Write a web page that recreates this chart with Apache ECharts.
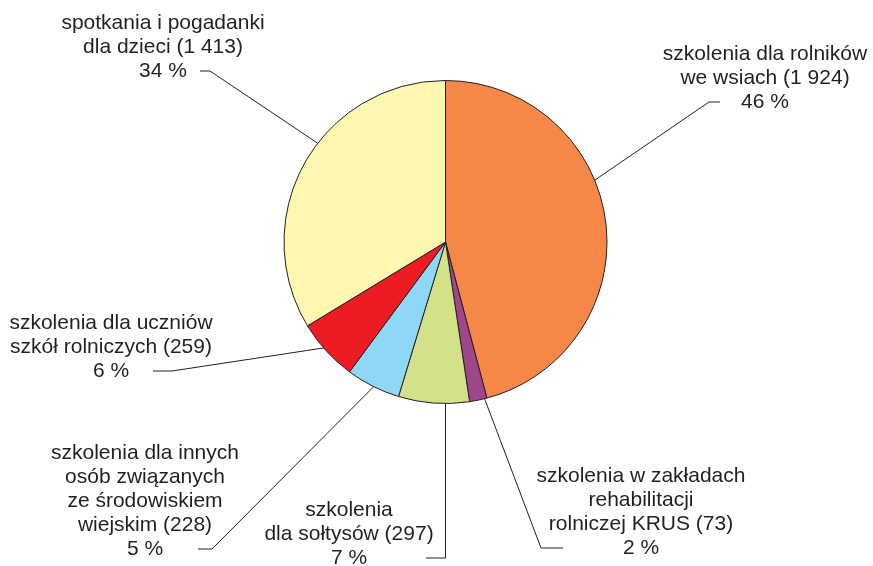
<html>
<head>
    <meta http-equiv="Content-Type" content="text/html; charset=utf-8">
    <script src="https://cdn.jsdelivr.net/npm/echarts@6/dist/echarts.min.js"></script>
    <style>
        * {
            margin: 0;
            padding: 0;
        }

        #main {
            width: 873px;
            height: 566px;
            background: #ffffff;
        }
    </style>
</head>
<body>
<div id="main"></div>
<script type="text/javascript">
    // kategorie (kolejność jak na wykresie, od góry zgodnie z ruchem wskazówek)
    let categories = [
        'szkolenia dla rolników\nwe wsiach',
        'szkolenia w zakładach\nrehabilitacji\nrolniczej KRUS',
        'szkolenia\ndla sołtysów',
        'szkolenia dla innych\nosób związanych\nze środowiskiem\nwiejskim',
        'szkolenia dla uczniów\nszkół rolniczych',
        'spotkania i pogadanki\ndla dzieci'
    ];
    let values = [1924, 73, 297, 228, 259, 1413];
    let colors = ['#f58747', '#a0468a', '#d3e288', '#8ed8f5', '#ed1c24', '#fff6af'];

    // wymiary koła
    let pieCenter = [445.5, 242];
    let pieRadius = 161.5;

    // podpisy: środek tekstu, wysokość ostatniej linii, załamanie i koniec linii,
    // kąt (od góry, zgodnie ze wskazówkami) w którym linia dotyka koła
    let labelSpots = [
        {cx: 765, y: 102, bend: 709, end: 720, angle: 67.5},
        {cx: 641, y: 548, bend: 541, end: 563, angle: 166},
        {cx: 349, y: 558, bend: null, end: 426, angle: 180},
        {cx: 145, y: 549, bend: 212, end: 198, angle: 206.4},
        {cx: 111, y: 371, bend: 172, end: 153, angle: 229},
        {cx: 163, y: 71, bend: 210, end: 200, angle: 307.7}
    ];

    function fmtNum(v) {
        return String(v).replace(/\B(?=(\d{3})+(?!\d))/g, ' ');
    }

    let pieData = categories.map(function (name, i) {
        return {name: name, value: values[i], itemStyle: {color: colors[i]}};
    });

    let myChart = echarts.init(document.getElementById('main'));
    let option = {
        animation: false,
        series: [
            {
                type: 'pie',
                center: pieCenter,
                radius: pieRadius,
                startAngle: 90,
                clockwise: true,
                avoidLabelOverlap: false,
                percentPrecision: 0,
                itemStyle: {
                    borderColor: '#231f20',
                    borderWidth: 1
                },
                label: {
                    show: true,
                    position: 'outside',
                    fontFamily: 'Liberation Sans, Arial, sans-serif',
                    fontSize: 21,
                    lineHeight: 24,
                    color: '#231f20',
                    formatter: function (p) {
                        return p.name + ' (' + fmtNum(p.value) + ')\n' + p.percent + ' %';
                    }
                },
                labelLine: {
                    show: true,
                    lineStyle: {color: '#231f20', width: 1}
                },
                labelLayout: function (p) {
                    let s = labelSpots[p.dataIndex];
                    let a = s.angle * Math.PI / 180;
                    let start = [pieCenter[0] + pieRadius * Math.sin(a), pieCenter[1] - pieRadius * Math.cos(a)];
                    let bendX = s.bend === null ? start[0] : s.bend;
                    return {
                        x: s.cx,
                        y: s.y + 12,
                        align: 'center',
                        verticalAlign: 'bottom',
                        labelLinePoints: [start, [bendX, s.y], [s.end, s.y]]
                    };
                },
                emphasis: {disabled: true},
                data: pieData
            }
        ]
    };
    myChart.setOption(option);
</script>
</body>
</html>
